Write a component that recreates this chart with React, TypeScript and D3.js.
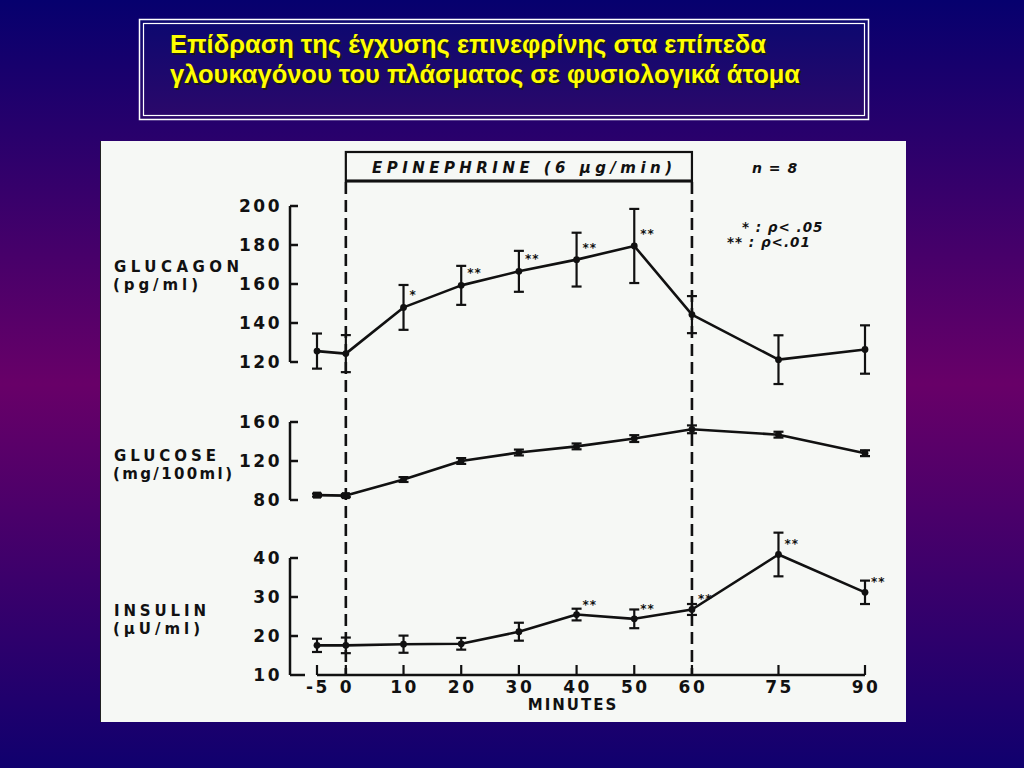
import React from "react";
import * as d3 from "d3";

const titleLines = [
  "Επίδραση της έγχυσης επινεφρίνης στα επίπεδα",
  "γλουκαγόνου του πλάσματος σε φυσιολογικά άτομα",
];

const minutes = [-5, 0, 10, 20, 30, 40, 50, 60, 75, 90];

const glucagonMean = [125.6, 124.3, 148, 159.3, 166.5, 172.5, 179.5, 144.3, 121.2, 126.4];
const glucagonErr = [9, 9.5, 11.5, 10, 10.5, 13.8, 19, 9.5, 12.5, 12.4];
const glucagonSig = ["", "", "*", "**", "**", "**", "**", "", "", ""];

const glucoseMean = [85, 84.5, 101, 120, 128.7, 135, 143, 152.5, 147, 128];
const glucoseErr = [1.5, 1.5, 2.5, 3, 3, 3, 3.5, 4, 3, 3];

const insulinMean = [17.6, 17.6, 17.9, 18, 21.1, 25.5, 24.4, 26.8, 40.9, 31.2];
const insulinErr = [1.7, 2, 2.2, 1.5, 2.3, 1.5, 2.4, 1.4, 5.6, 3];
const insulinSig = ["", "", "", "", "", "**", "**", "**", "**", "**"];

const glucagonTicks = [120, 140, 160, 180, 200];
const glucoseTicks = [80, 120, 160];
const insulinTicks = [10, 20, 30, 40];
const infusionWindow = [0, 60];

const FONT = "'DejaVu Sans', sans-serif";

type PanelProps = {
  name: string;
  unit: string;
  nameWidth: number;
  unitWidth: number;
  labelY: number;
  mean: number[];
  err: number[];
  sig?: string[];
  ticks: number[];
  y: d3.ScaleLinear<number, number>;
  x: d3.ScaleLinear<number, number>;
  sigDy: number;
  squareFirst?: boolean;
  lastTickLong?: boolean;
};

function Panel(p: PanelProps) {
  const line = d3
    .line<number>()
    .x((_, i) => p.x(minutes[i]))
    .y((d) => p.y(d));
  const axisX = 290;
  const [y0, y1] = d3.extent(p.ticks) as [number, number];
  return (
    <g>
      <text x={114} y={p.labelY} fontFamily={FONT} fontWeight="bold" fontSize={15} textLength={p.nameWidth} lengthAdjust="spacing" fill="#111">
        {p.name}
      </text>
      <text x={113} y={p.labelY + 18} fontFamily={FONT} fontWeight="bold" fontSize={15} textLength={p.unitWidth} lengthAdjust="spacing" fill="#111">
        {p.unit}
      </text>
      <line x1={axisX} x2={axisX} y1={p.y(y0)} y2={p.y(y1)} stroke="#111" strokeWidth={2.5} />
      {p.ticks.map((t, i) => (
        <g key={t}>
          <line
            x1={axisX}
            x2={axisX + (p.lastTickLong && i === 0 ? 15 : 8)}
            y1={p.y(t)}
            y2={p.y(t)}
            stroke="#111"
            strokeWidth={2.5}
          />
          <text
            x={axisX - 8}
            y={p.y(t)}
            dy="0.36em"
            textAnchor="end"
            fontFamily={FONT}
            fontWeight="bold"
            fontSize={17}
            letterSpacing={2.5}
            fill="#111"
          >
            {t}
          </text>
        </g>
      ))}
      <path d={line(p.mean) || ""} fill="none" stroke="#111" strokeWidth={2.6} strokeLinejoin="round" />
      {p.mean.map((m, i) => {
        const cx = p.x(minutes[i]);
        const top = p.y(m + p.err[i]);
        const bot = p.y(m - p.err[i]);
        return (
          <g key={i}>
            <line x1={cx} x2={cx} y1={top} y2={bot} stroke="#111" strokeWidth={2.2} />
            <line x1={cx - 5} x2={cx + 5} y1={top} y2={top} stroke="#111" strokeWidth={2.2} />
            <line x1={cx - 5} x2={cx + 5} y1={bot} y2={bot} stroke="#111" strokeWidth={2.2} />
            {p.squareFirst && minutes[i] <= 0 ? (
              <rect x={cx - 4} y={p.y(m) - 3.5} width={8} height={7} fill="#111" />
            ) : (
              <circle cx={cx} cy={p.y(m)} r={3.4} fill="#111" />
            )}
            {p.sig && p.sig[i] ? (
              <text x={cx + 6} y={p.y(m) + p.sigDy} fontFamily={FONT} fontWeight="bold" fontSize={12} fill="#111" letterSpacing={1}>
                {p.sig[i]}
              </text>
            ) : null}
          </g>
        );
      })}
    </g>
  );
}

export default function App() {
  const x = d3.scaleLinear().domain([-5, 90]).range([317, 865]);
  const yGlucagon = d3.scaleLinear().domain([120, 200]).range([362, 206]);
  const yGlucose = d3.scaleLinear().domain([80, 160]).range([500, 422]);
  const yInsulin = d3.scaleLinear().domain([10, 40]).range([675, 558]);
  const axisY = yInsulin(10);
  const titleWidths = [596, 630];

  return (
    <svg width={1024} height={768} style={{ position: "absolute", left: 0, top: 0 }}>
      <defs>
        <linearGradient id="bg" x1="0" y1="0" x2="0" y2="1">
          <stop offset="0" stopColor="#06006e" />
          <stop offset="0.5" stopColor="#680068" />
          <stop offset="1" stopColor="#10006e" />
        </linearGradient>
        <linearGradient id="tbox" x1="0" y1="0" x2="0" y2="1">
          <stop offset="0" stopColor="#0c0870" />
          <stop offset="1" stopColor="#2c086a" />
        </linearGradient>
      </defs>
      <rect x={0} y={0} width={1024} height={768} fill="url(#bg)" />

      {/* Title box */}
      <rect x={139.5} y={19.5} width={729} height={100} fill="url(#tbox)" stroke="#ffffff" strokeWidth={1.5} />
      <rect x={143.5} y={23.5} width={721} height={92} fill="none" stroke="#ffffff" strokeWidth={1.2} />
      {titleLines.map((t, i) => (
        <g key={i}>
          <text x={172} y={55 + i * 30} fontFamily="'Liberation Sans', Arial, sans-serif" fontWeight="bold" fontSize={25} textLength={titleWidths[i]} lengthAdjust="spacingAndGlyphs" fill="#1a1a1a">
            {t}
          </text>
          <text x={170} y={53 + i * 30} fontFamily="'Liberation Sans', Arial, sans-serif" fontWeight="bold" fontSize={25} textLength={titleWidths[i]} lengthAdjust="spacingAndGlyphs" fill="#ffff00">
            {t}
          </text>
        </g>
      ))}

      {/* Chart panel */}
      <rect x={100} y={141} width={806} height={581} fill="#f6f8f5" />
      <line x1={100.5} x2={100.5} y1={141} y2={722} stroke="#222" strokeWidth={1} />

      {/* Infusion window */}
      <rect
        x={x(infusionWindow[0])}
        y={152}
        width={x(infusionWindow[1]) - x(infusionWindow[0])}
        height={29}
        fill="none"
        stroke="#111"
        strokeWidth={2.2}
      />
      <line x1={x(infusionWindow[0])} x2={x(infusionWindow[1])} y1={181} y2={181} stroke="#111" strokeWidth={3} />
      <text x={372} y={173} fontFamily={FONT} fontWeight="bold" fontStyle="italic" fontSize={15} textLength={300} lengthAdjust="spacing" fill="#111">
        EPINEPHRINE (6 μg/min)
      </text>
      {infusionWindow.map((t) => (
        <line key={t} x1={x(t)} x2={x(t)} y1={182} y2={axisY} stroke="#111" strokeWidth={2.6} strokeDasharray="12 6" />
      ))}

      <text x={752} y={173} fontFamily={FONT} fontWeight="bold" fontStyle="italic" fontSize={14} fill="#111" letterSpacing={1}>
        n = 8
      </text>
      <text x={742} y={232} fontFamily={FONT} fontWeight="bold" fontStyle="italic" fontSize={13.5} fill="#111" letterSpacing={1}>
        * : ρ&lt; .05
      </text>
      <text x={727} y={247} fontFamily={FONT} fontWeight="bold" fontStyle="italic" fontSize={13.5} fill="#111" letterSpacing={1}>
        ** : ρ&lt;.01
      </text>

      <Panel
        name="GLUCAGON"
        unit="(pg/ml)"
        nameWidth={125}
        unitWidth={85}
        labelY={272}
        mean={glucagonMean}
        err={glucagonErr}
        sig={glucagonSig}
        ticks={glucagonTicks}
        y={yGlucagon}
        x={x}
        sigDy={-8}
      />
      <Panel
        name="GLUCOSE"
        unit="(mg/100ml)"
        nameWidth={102}
        unitWidth={119}
        labelY={461}
        mean={glucoseMean}
        err={glucoseErr}
        ticks={glucoseTicks}
        y={yGlucose}
        x={x}
        sigDy={0}
        squareFirst
      />
      <Panel
        name="INSULIN"
        unit="(μU/ml)"
        nameWidth={92}
        unitWidth={87}
        labelY={616}
        mean={insulinMean}
        err={insulinErr}
        sig={insulinSig}
        ticks={insulinTicks}
        y={yInsulin}
        x={x}
        sigDy={-6}
        lastTickLong
      />

      {/* X axis */}
      <line x1={x(minutes[0])} x2={x(minutes[minutes.length - 1])} y1={axisY} y2={axisY} stroke="#111" strokeWidth={2.5} />
      {minutes.map((t) => (
        <g key={t}>
          <line x1={x(t)} x2={x(t)} y1={axisY} y2={axisY - 10} stroke="#111" strokeWidth={2.2} />
          <text x={x(t) + 1} y={axisY + 18} textAnchor="middle" fontFamily={FONT} fontWeight="bold" fontSize={17} letterSpacing={2.5} fill="#111">
            {t}
          </text>
        </g>
      ))}
      <text x={573} y={710} textAnchor="middle" fontFamily={FONT} fontWeight="bold" fontSize={15} letterSpacing={2} fill="#111">
        MINUTES
      </text>
    </svg>
  );
}
